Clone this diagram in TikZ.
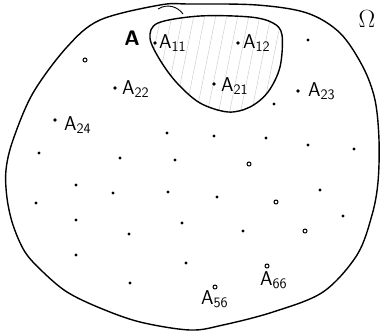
\documentclass[tikz,border=0pt]{standalone}
\usetikzlibrary{calc}
\begin{document}
\begin{tikzpicture}[x=1pt,y=-1pt,
  pen/.style={line width=1.4pt, black, line join=round},
  pt/.style={circle, fill=black, inner sep=0pt, minimum size=3.8pt},
  ring/.style={circle, draw=black, line width=1pt, inner sep=0pt, minimum size=4pt},
  lbl/.style={inner sep=0pt, anchor=base west, font=\fontsize{20}{22}\selectfont\sffamily},
  hatch/.style={gray!35, line width=0.5pt}]
\useasboundingbox (0,0) rectangle (380,335);
% outer set Omega
\draw[pen] plot[smooth cycle, tension=0.55] coordinates {
 (190,4) (257,5) (307,13) (340,33) (363,67) (375,100) (379,140) (378,182)
 (372,215) (357,255) (323,292) (273,312) (223,325) (190,330) (140,322)
 (100,308) (67,292) (43,272) (25,252) (13,225) (7,198) (6,170) (13,140)
 (33,93) (67,47) (100,20) (160,5)};
\draw[pen, line width=0.9pt] (158,9) .. controls (168,3) and (178,7) .. (183,14);
% set A
\begin{scope}
\clip plot[smooth cycle, tension=0.55] coordinates {
 (158,23) (200,16) (250,17) (273,23) (282,35) (280,67) (268,92) (250,107)
 (228,112) (200,103) (177,83) (160,60) (150,38)};
\foreach \k in {0,...,14} {
  \draw[hatch] ($(140,120)+(\k*11,0)$) -- ++(22,-110);
}
\end{scope}
\draw[pen] plot[smooth cycle, tension=0.55] coordinates {
 (158,23) (200,16) (250,17) (273,23) (282,35) (280,67) (268,92) (250,107)
 (228,112) (200,103) (177,83) (160,60) (150,38)};
% labels
\node[inner sep=0pt, font=\fontsize{21}{22}\selectfont\sffamily\bfseries] (A) at (132,38) {A};
\node[inner sep=0pt, font=\fontsize{24}{26}\selectfont] (Om) at (367,19) {$\Omega$};
% labelled points
\node[pt] (p11) at (155,43) {};
\node[lbl] (l11) at (159,48) {A$_{\mathsf{11}}$};
\node[pt] (p12) at (238,43) {};
\node[lbl] (l12) at (243,48) {A$_{\mathsf{12}}$};
\node[pt] (p21) at (214,84) {};
\node[lbl] (l21) at (221,91) {A$_{\mathsf{21}}$};
\node[pt] (p22) at (115,88) {};
\node[lbl] (l22) at (122,94) {A$_{\mathsf{22}}$};
\node[pt] (p23) at (298,91) {};
\node[lbl] (l23) at (308,96) {A$_{\mathsf{23}}$};
\node[pt] (p24) at (55,120) {};
\node[lbl] (l24) at (64,130) {A$_{\mathsf{24}}$};
\node[ring] (p56) at (215,287) {};
\node[lbl] (l56) at (201,304) {A$_{\mathsf{56}}$};
\node[ring] (p66) at (267,266) {};
\node[lbl] (l66) at (260,285) {A$_{\mathsf{66}}$};
% other points
\foreach \x/\y [count=\i] in {308/40,274/104,167/133,214/136,266/138,308/145,354/149,
  39/153,120/158,175/160,76/185,113/193,168/192,217/197,320/190,36/203,
  76/220,129/234,182/223,243/231,343/216,76/255,130/283,186/263}
  \node[pt, minimum size=3.4pt] (q\i) at (\x,\y) {};
\foreach \x/\y [count=\i] in {85/60,249/164,276/202,305/231}
  \node[ring] (r\i) at (\x,\y) {};
\end{tikzpicture}
\end{document}
